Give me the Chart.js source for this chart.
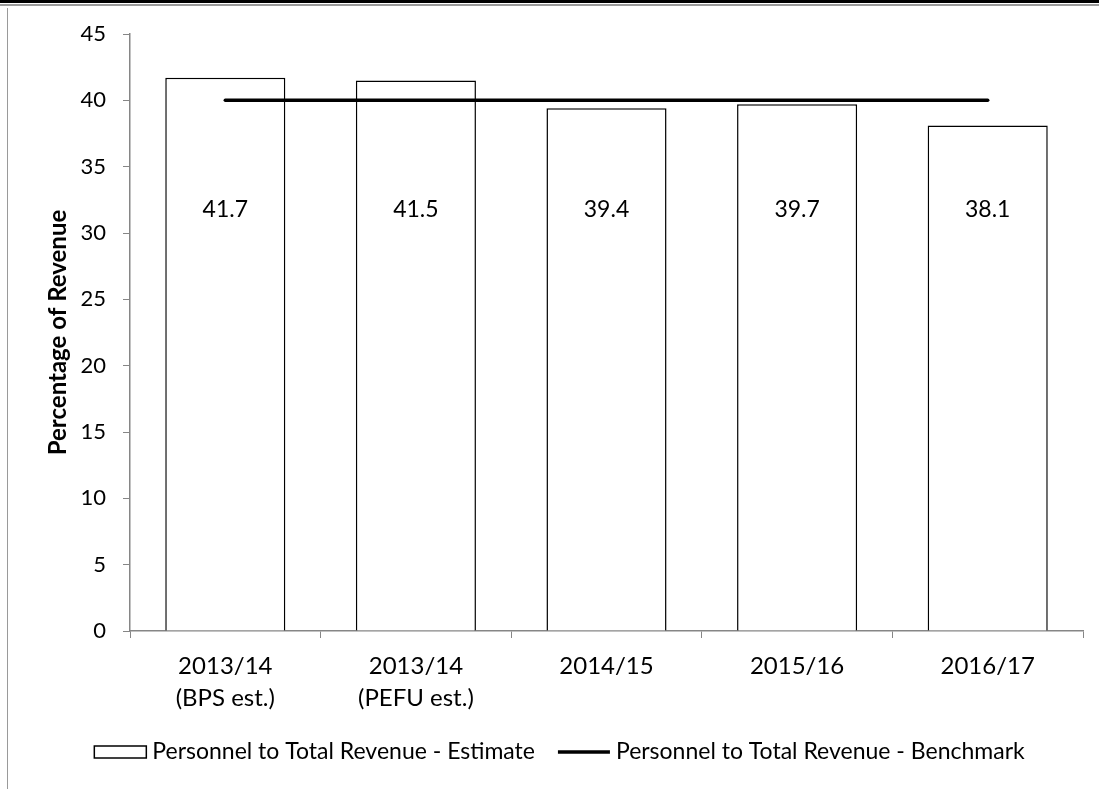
<!DOCTYPE html>
<html>
<head>
<meta charset="utf-8">
<script src="https://cdn.jsdelivr.net/npm/chart.js@4.4.0/dist/chart.umd.min.js"></script>
<style>
    body { margin: 0; background: #fff; }
    #wrap { position: relative; width: 1099px; height: 789px; overflow: hidden; }
    #topRule { position: absolute; left: 0; top: 0; width: 1099px; height: 3px; background: #000; }
    #topRule2 { position: absolute; left: 0; top: 4px; width: 1099px; height: 2px; background: #9a9a9a; }
    #leftRule { position: absolute; left: 7px; top: 8px; width: 1px; height: 781px; background: #9a9a9a; }
    canvas { position: absolute; left: 0; top: 0; }
</style>
</head>
<body>
<div id="wrap">
    <canvas id="ratioChart" width="1099" height="789"></canvas>
    <div id="topRule"></div>
    <div id="topRule2"></div>
    <div id="leftRule"></div>
</div>
<script>
const years = [
    ['2013/14', '(BPS est.)'],
    ['2013/14', '(PEFU est.)'],
    '2014/15',
    '2015/16',
    '2016/17'
];
const estimate = [41.7, 41.5, 39.4, 39.7, 38.1];
const benchmark = [40, 40, 40, 40, 40];
const yTicks = [0, 5, 10, 15, 20, 25, 30, 35, 40, 45];

const FONT = 'Lato, "Liberation Sans", sans-serif';
const AXIS_GREY = '#868686';
const LABEL_LEVEL = 31.8;   // value labels all sit at this height on the y scale

// value labels inside the bars
const barValues = {
    id: 'barValues',
    afterDatasetsDraw(chart) {
        const ctx = chart.ctx;
        const meta = chart.getDatasetMeta(0);
        const y = chart.scales.y.getPixelForValue(LABEL_LEVEL);
        ctx.save();
        ctx.font = '23px ' + FONT;
        ctx.fillStyle = '#000';
        ctx.textAlign = 'center';
        ctx.textBaseline = 'middle';
        meta.data.forEach((bar, i) => {
            ctx.fillText(chart.data.datasets[0].data[i].toFixed(1), bar.x, y);
        });
        ctx.restore();
    }
};

// legend row under the axis
const bottomLegend = {
    id: 'bottomLegend',
    afterDraw(chart) {
        const ctx = chart.ctx;
        const sets = chart.data.datasets;
        const y = 752;
        const swatch = 52, gap = 6, spacing = 23;
        ctx.save();
        ctx.font = '23px ' + FONT;
        ctx.textBaseline = 'middle';
        ctx.fillStyle = '#000';
        const w0 = ctx.measureText(sets[0].label).width;
        const w1 = ctx.measureText(sets[1].label).width;
        const total = swatch + gap + w0 + spacing + swatch + gap + w1;
        let x = chart.width / 2 + 10 - total / 2;

        ctx.fillStyle = '#fff';
        ctx.fillRect(x, y - 6, swatch, 12);
        ctx.strokeStyle = '#000';
        ctx.lineWidth = 1.5;
        ctx.strokeRect(x, y - 6, swatch, 12);
        ctx.fillStyle = '#000';
        ctx.fillText(sets[0].label, x + swatch + gap, y);
        x += swatch + gap + w0 + spacing;

        ctx.beginPath();
        ctx.moveTo(x, y);
        ctx.lineTo(x + swatch, y);
        ctx.lineWidth = 3.5;
        ctx.stroke();
        ctx.fillText(sets[1].label, x + swatch + gap, y);
        ctx.restore();
    }
};

new Chart(document.getElementById('ratioChart'), {
    data: {
        labels: years,
        datasets: [{
            type: 'bar',
            label: 'Personnel to Total Revenue - Estimate',
            data: estimate,
            backgroundColor: '#fff',
            borderColor: '#000',
            borderWidth: 1.5,
            categoryPercentage: 1,
            barPercentage: 0.63,
            order: 1
        }, {
            type: 'line',
            label: 'Personnel to Total Revenue - Benchmark',
            data: benchmark,
            borderColor: '#000',
            borderWidth: 3.5,
            borderCapStyle: 'round',
            pointRadius: 0,
            order: 0
        }]
    },
    options: {
        responsive: false,
        animation: false,
        layout: { padding: { top: 34, right: 16, left: 0, bottom: 0 } },
        plugins: {
            legend: { display: false },
            tooltip: { enabled: false }
        },
        scales: {
            x: {
                offset: true,
                grid: {
                    display: true,
                    drawOnChartArea: false,
                    offset: true,
                    color: AXIS_GREY,
                    tickLength: 7
                },
                border: { color: AXIS_GREY, width: 1.5 },
                ticks: {
                    color: '#000',
                    font: { family: FONT, size: 24, lineHeight: 1.35 },
                    padding: 12,
                    maxRotation: 0
                },
                afterFit(scale) { scale.height = 158; }
            },
            y: {
                min: 0,
                max: 45,
                afterBuildTicks(scale) { scale.ticks = yTicks.map(v => ({ value: v })); },
                grid: {
                    display: true,
                    drawOnChartArea: false,
                    color: AXIS_GREY,
                    tickLength: 7
                },
                border: { color: AXIS_GREY, width: 1.5 },
                ticks: {
                    color: '#000',
                    font: { family: FONT, size: 22 },
                    padding: 17
                },
                title: {
                    display: true,
                    text: 'Percentage of Revenue',
                    color: '#000',
                    font: { family: FONT, size: 24, weight: 'bold' },
                    padding: { top: 44 }
                },
                afterFit(scale) { scale.width = 130; }
            }
        }
    },
    plugins: [barValues, bottomLegend]
});
</script>
</body>
</html>
